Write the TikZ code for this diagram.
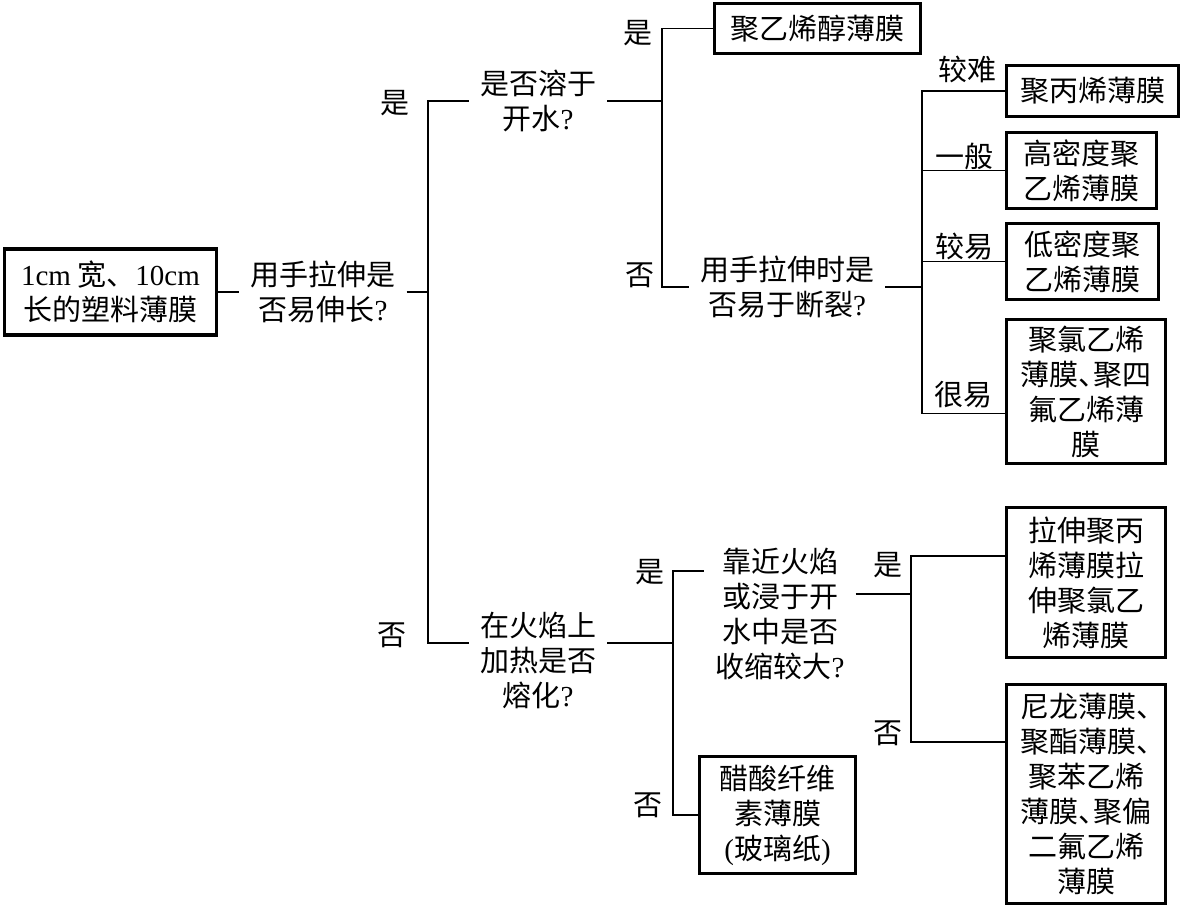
\documentclass[tikz,border=0pt]{standalone}
\usepackage{fontspec}
\setmainfont{Liberation Serif}
\newfontfamily\cjk{Noto Sans CJK SC}
\newcommand\latn[1]{{\rmfamily#1}}
\newcommand\dun{\makebox[.5em][l]{、}}
\tikzset{
  every node/.style={font=\cjk\fontsize{29}{35}\selectfont,align=center,inner sep=0pt},
  leaf/.style={draw,line width=3.2pt},
  ask/.style={inner xsep=11pt,inner ysep=4pt},
  link/.style={line width=1.5pt}
}
\begin{document}
\begin{tikzpicture}[x=1pt,y=-1pt]
\useasboundingbox(0,0)rectangle(1182,907);
% start and first question
\node[leaf,minimum width=212pt,minimum height=86pt](film)at(110.5,292){\latn{1cm} 宽、\latn{10cm}\\长的塑料薄膜};
\node[ask](stretch)at(323,292){用手拉伸是\\否易伸长\latn{?}};
\coordinate(b1)at(428,292);
\draw[link](film)--(stretch)--(b1);
% upper branch
\node[ask](dissolve)at(538,101){是否溶于\\开水\latn{?}};
\node[ask](tear)at(787,287){用手拉伸时是\\否易于断裂\latn{?}};
\node[leaf,minimum width=206pt,minimum height=50pt](pva)at(817.5,28.5){聚乙烯醇薄膜};
\node[leaf,minimum width=172pt,minimum height=51pt](pp)at(1092.5,91){聚丙烯薄膜};
\node[leaf,minimum width=150pt,minimum height=76pt](hdpe)at(1081.5,170.5){高密度聚\\乙烯薄膜};
\node[leaf,minimum width=152pt,minimum height=76pt](ldpe)at(1082.5,261.5){低密度聚\\乙烯薄膜};
\node[leaf,minimum width=159pt,minimum height=144pt](pvc)at(1086,391.5){聚氯乙烯\\薄膜\dun 聚四\\氟乙烯薄\\膜};
\coordinate(b2)at(662,101);\coordinate(b4)at(922,287);
\draw[link](b1)|-(dissolve.west) (dissolve.east)--(b2);
\draw[link](b2)|-(pva.west) (b2)|-(tear.west) (tear.east)--(b4);
\draw[link](b4)|-(pp.west) (b4)|-(hdpe.west) (b4)|-(ldpe.west) (b4)|-([yshift=-22pt]pvc.west);
% lower branch
\node[ask](melt)at(538,660){在火焰上\\加热是否\\熔化\latn{?}};
\node[ask](shrink)at(780,614){靠近火焰\\或浸于开\\水中是否\\收缩较大\latn{?}};
\node[leaf,minimum width=156pt,minimum height=117pt](cello)at(777.5,815){醋酸纤维\\素薄膜\\\latn{(}玻璃纸\latn{)}};
\node[leaf,minimum width=159pt,minimum height=150pt](oriented)at(1086,582.5){拉伸聚丙\\烯薄膜拉\\伸聚氯乙\\烯薄膜};
\node[leaf,minimum width=159pt,minimum height=219pt](nylon)at(1086,794){尼龙薄膜\dun\\聚酯薄膜\dun\\聚苯乙烯\\薄膜\dun 聚偏\\二氟乙烯\\薄膜};
\coordinate(b3)at(673,643);\coordinate(b5)at(911,594);
\draw[link](b1)|-([yshift=17pt]melt.west) ([yshift=17pt]melt.east)--(b3);
\draw[link](b3)|-([yshift=43pt]shrink.west) (b3)|-(cello.west) ([yshift=20pt]shrink.east)--(b5);
\draw[link](b5)|-([yshift=26.5pt]oriented.west) (b5)|-([yshift=52pt]nylon.west);
% branch labels
\foreach\t/\x/\y[count=\i]in{是/395/103,否/392/635,是/638/33,否/640/275,较难/967/69,一般/964/156,较易/964/246,很易/963/395,是/650/572,否/648/805,是/888/565,否/888/733}{\node(lab\i)at(\x,\y){\t};}
\end{tikzpicture}
\end{document}
